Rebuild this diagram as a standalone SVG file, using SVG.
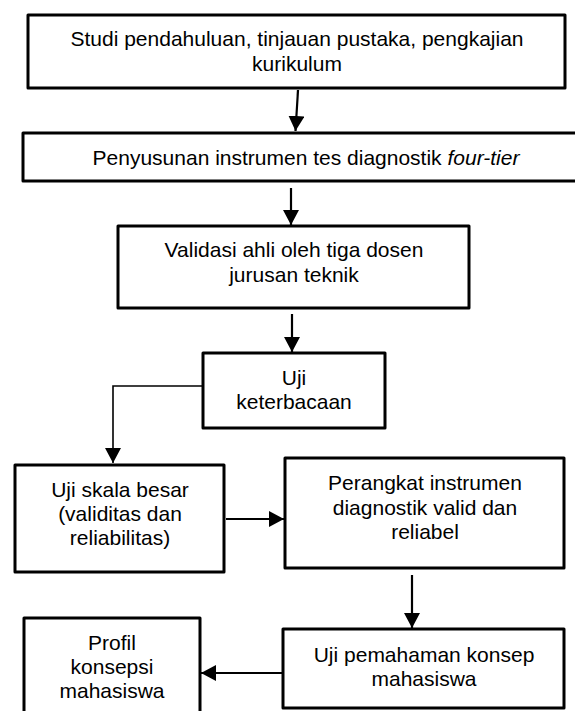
<svg xmlns="http://www.w3.org/2000/svg" width="575" height="711" viewBox="0 0 575 711">
<style>
.box{fill:#fff;stroke:#000;stroke-width:3;stroke-linejoin:round}
.t{font-family:"Liberation Sans",Arial,sans-serif;font-size:21px;fill:#000;text-anchor:middle}
.c{fill:none;stroke:#000;stroke-width:2.2}
.thin{fill:none;stroke:#000;stroke-width:1.6}
</style>
<defs>
<marker id="ah" markerUnits="userSpaceOnUse" markerWidth="15" markerHeight="16" refX="15" refY="8" orient="auto">
<path d="M0,0 L15,8 L0,16 z" fill="#000"/>
</marker>
</defs>
<rect width="575" height="711" fill="#fff"/>
<g id="n1">
<rect class="box" x="28" y="15" width="537" height="73"/>
<text class="t" x="297" y="46">Studi pendahuluan, tinjauan pustaka, pengkajian</text>
<text class="t" x="297" y="71">kurikulum</text>
</g>
<g id="n2">
<rect class="box" x="23" y="133" width="572" height="48"/>
<text class="t" x="306" y="165">Penyusunan instrumen tes diagnostik <tspan font-style="italic">four-tier</tspan></text>
</g>
<g id="n3">
<rect class="box" x="118" y="226" width="351" height="82"/>
<text class="t" x="294" y="257">Validasi ahli oleh tiga dosen</text>
<text class="t" x="294" y="282">jurusan teknik</text>
</g>
<g id="n4">
<rect class="box" x="203" y="353" width="182" height="75"/>
<text class="t" x="294" y="385">Uji</text>
<text class="t" x="294" y="409">keterbacaan</text>
</g>
<g id="n5">
<rect class="box" x="15" y="465" width="209" height="107"/>
<text class="t" x="120" y="497">Uji skala besar</text>
<text class="t" x="120" y="521">(validitas dan</text>
<text class="t" x="120" y="545">reliabilitas)</text>
</g>
<g id="n6">
<rect class="box" x="285" y="458" width="279" height="110"/>
<text class="t" x="425" y="490">Perangkat instrumen</text>
<text class="t" x="425" y="515">diagnostik valid dan</text>
<text class="t" x="425" y="539">reliabel</text>
</g>
<g id="n7">
<rect class="box" x="283" y="629" width="281" height="79"/>
<text class="t" x="424" y="662">Uji pemahaman konsep</text>
<text class="t" x="424" y="686">mahasiswa</text>
</g>
<g id="n8">
<rect class="box" x="24" y="618" width="176" height="100"/>
<text class="t" x="112" y="650">Profil</text>
<text class="t" x="112" y="674">konsepsi</text>
<text class="t" x="112" y="698">mahasiswa</text>
</g>
<g id="connectors">
<line class="c" x1="298" y1="90" x2="295.5" y2="131" marker-end="url(#ah)"/>
<line class="c" x1="291" y1="188" x2="291" y2="225" marker-end="url(#ah)"/>
<line class="c" x1="292" y1="314" x2="292" y2="352" marker-end="url(#ah)"/>
<polyline class="thin" points="202,386 113,386 113,463" marker-end="url(#ah)"/>
<line class="c" x1="226" y1="519" x2="284" y2="519" marker-end="url(#ah)"/>
<line class="c" x1="412" y1="575" x2="412" y2="628" marker-end="url(#ah)"/>
<line class="c" x1="282" y1="673" x2="201" y2="673" marker-end="url(#ah)"/>
</g>
</svg>
